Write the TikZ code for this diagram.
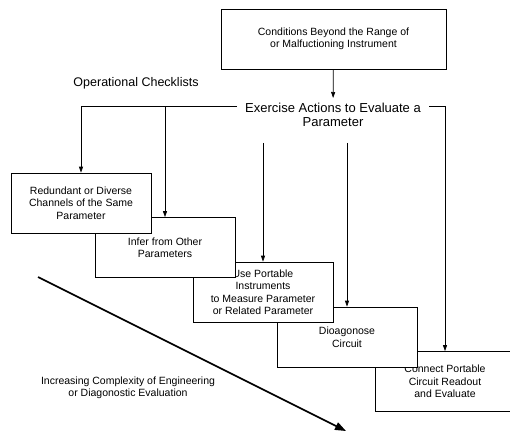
\documentclass[tikz,border=0pt]{standalone}
\usepackage{fontspec}
\setmainfont{Liberation Sans}
\usetikzlibrary{arrows.meta, positioning}

\begin{document}
\begin{tikzpicture}[
    x=1pt, y=-1pt,
    cbox/.style={draw, rectangle, fill=white, minimum width=140pt, minimum height=60pt, align=center, line width=0.7pt, inner sep=2pt, font=\fontsize{10.5}{12.5}\selectfont},
    arrow/.style={-{Triangle[length=6pt, width=4pt]}, line width=0.7pt},
    trend/.style={-{Triangle[length=11pt, width=8pt]}, line width=1.6pt}
]
\useasboundingbox (0,0) rectangle (510,442);
\node[cbox, minimum width=225pt] (cond) at (333.5,39) {Conditions Beyond the Range of\\or Malfuctioning Instrument};
\node[font=\fontsize{12.5}{15}\selectfont] (oper) at (136,83) {Operational Checklists};
\node[anchor=north, align=center, inner xsep=8pt, inner ysep=5pt, font=\fontsize{13}{14}\selectfont] (ex) at (333,98) {Exercise Actions to Evaluate a\\Parameter};
\node[cbox] (con) at (445,381.5) {Connect Portable\\Circuit Readout\\and Evaluate};
\node[cbox] (dia) at (347,337) {Dioagonose\\Circuit};
\node[cbox] (use) at (263,292) {Use Portable\\Instruments\\to Measure Parameter\\or Related Parameter};
\node[cbox] (inf) at (165,247.5) {Infer from Other\\Parameters};
\node[cbox] (red) at (81,203) {Redundant or Diverse\\Channels of the Same\\Parameter};
\node[align=center, font=\fontsize{10.5}{12.5}\selectfont] (incr) at (128,388) {Increasing Complexity of Engineering\\or Diagonostic Evaluation};
\coordinate (exl) at ([yshift=-8pt]ex.north west);
\coordinate (exr) at ([yshift=-8pt]ex.north east);
\coordinate (exb) at ([yshift=-11pt]ex.south);
\coordinate (cs) at (38,277);
\coordinate (ce) at (346,431);
\draw[arrow] (cond) -- (ex);
\draw[arrow] (exl) -| (red);
\draw[arrow] (exl -| inf) -- (inf);
\draw[arrow] (exb -| use) -- (use);
\draw[arrow] (exb -| dia) -- (dia);
\draw[arrow] (exr) -| (con);
\draw[trend] (cs) -- (ce);
\end{tikzpicture}
\end{document}
